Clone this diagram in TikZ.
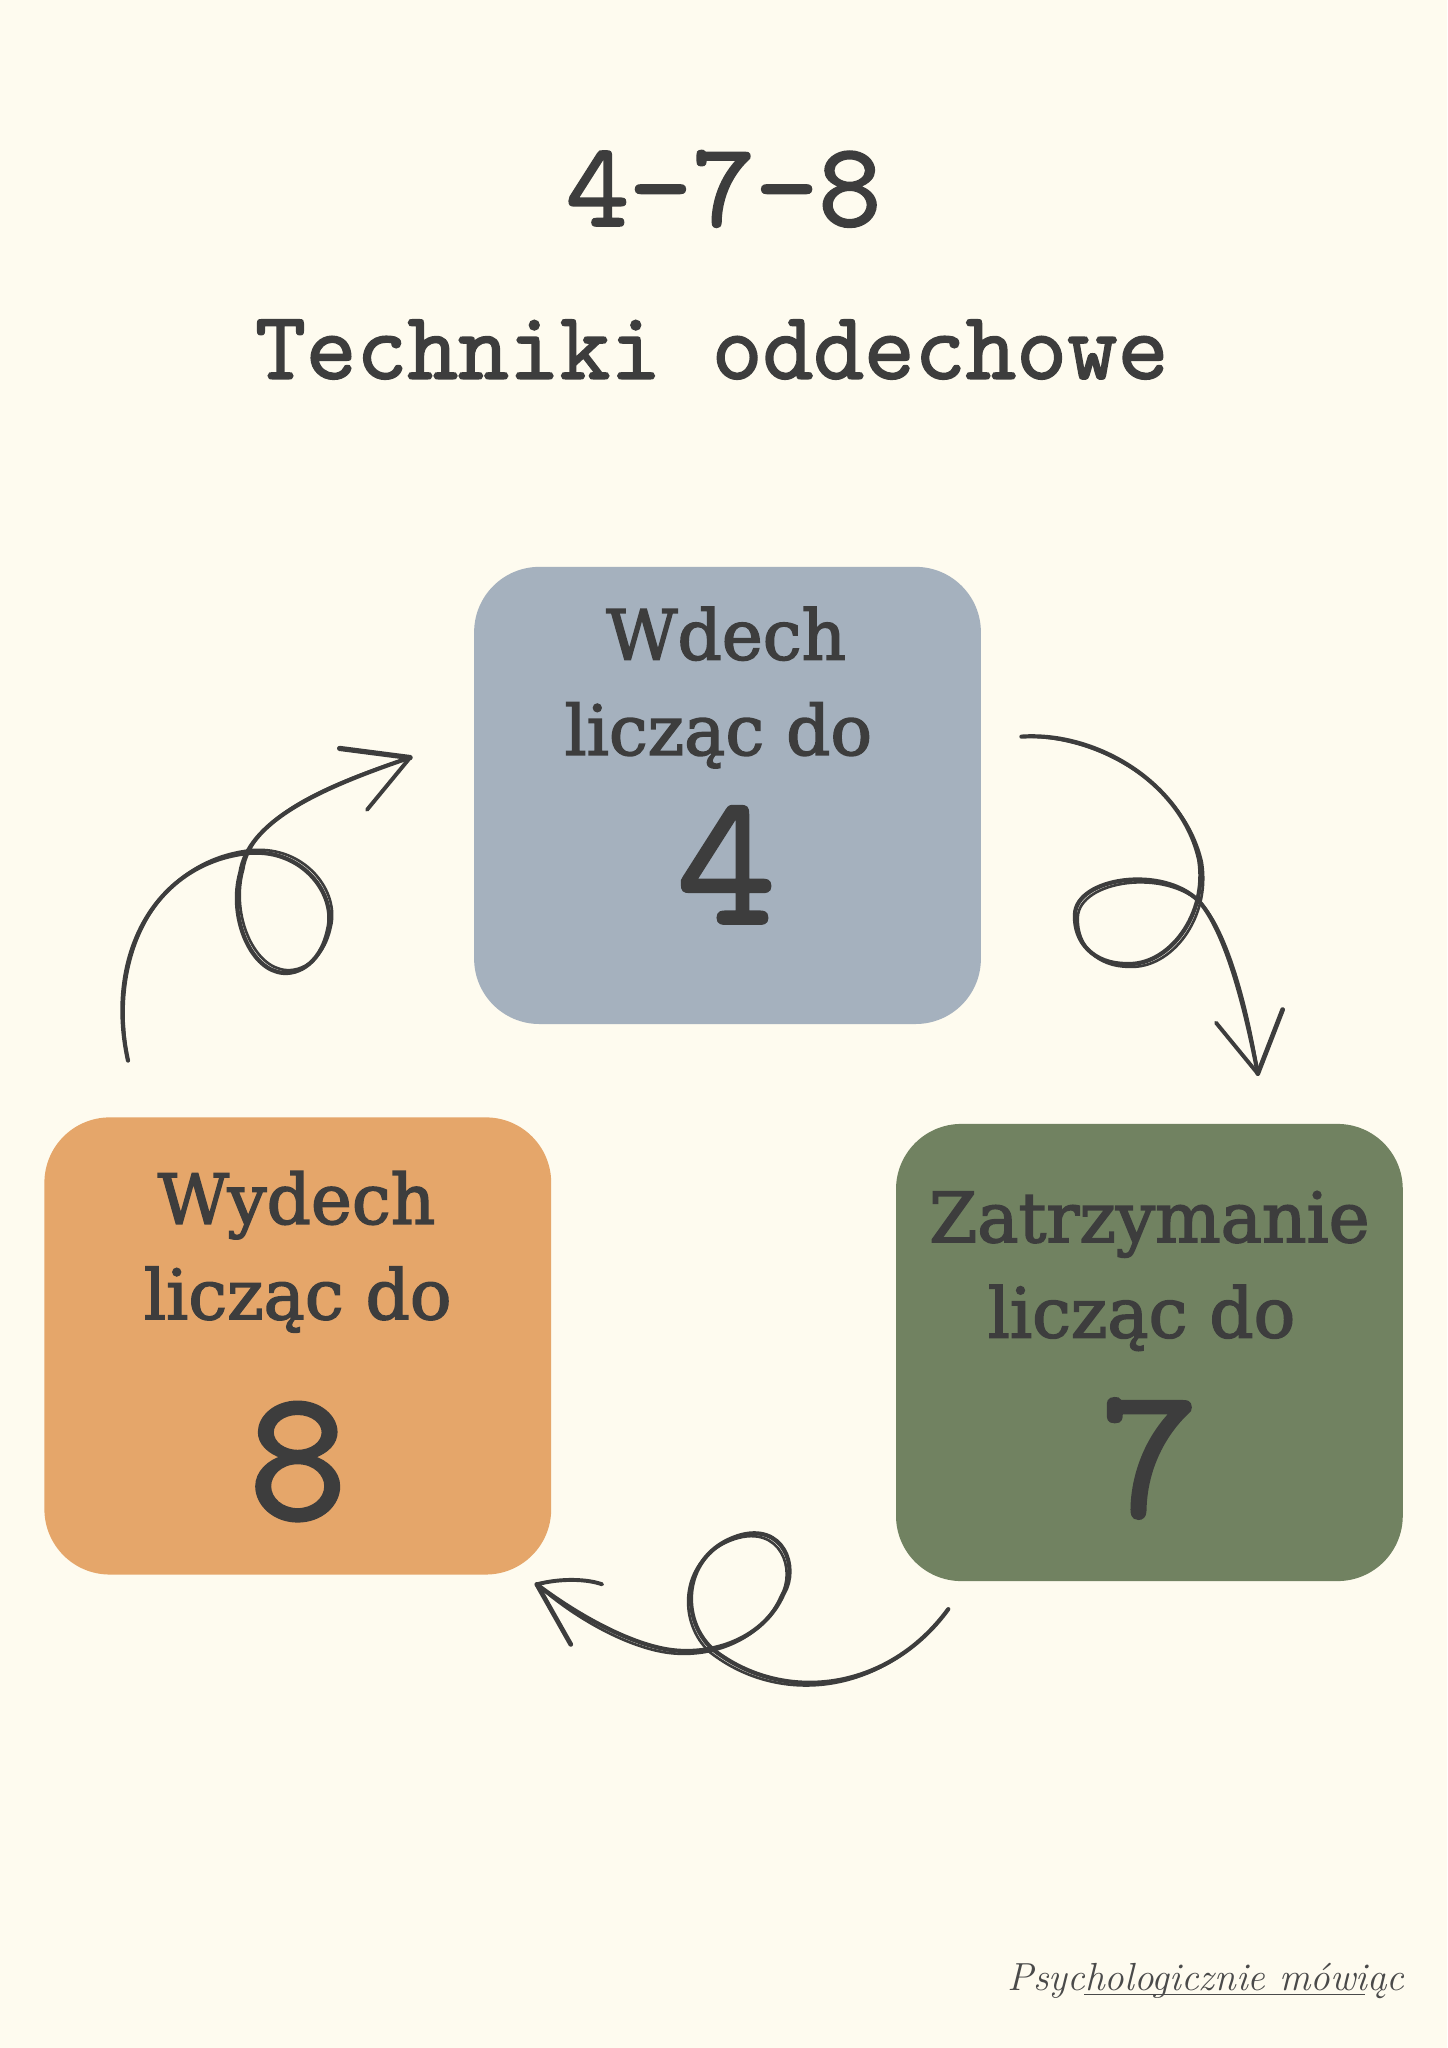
\documentclass[tikz,border=0pt]{standalone}
\usepackage{fontspec}
\newfontfamily\boxfont{DejaVu Serif}[FakeBold=2.2]
\newfontfamily\typew{lmmono10-regular}[Extension=.otf,FakeBold=1.6]
\definecolor{paper}{HTML}{FEFBEF}
\definecolor{ink}{HTML}{3D3D3D}
\definecolor{cblue}{HTML}{A5B1BE}
\definecolor{corange}{HTML}{E5A66A}
\definecolor{cgreen}{HTML}{718261}
\definecolor{sig}{HTML}{4A4A4A}
\tikzset{
  box/.style={rounded corners=50pt, inner sep=0pt, minimum width=388pt, minimum height=350pt},
  lbl/.style={anchor=base, inner sep=0pt, text=ink, font=\boxfont\fontsize{53}{53}\selectfont},
  num/.style={anchor=base, inner sep=0pt, text=ink, font=\typew\fontsize{144}{144}\selectfont},
  sketch/.style={draw=ink, line cap=round, line join=round},
}
\begin{document}
\begin{tikzpicture}[x=1pt,y=-1pt]
\fill[paper] (0,0) rectangle (1108,1568);
\useasboundingbox (0,0) rectangle (1108,1568);

% titles
\node[anchor=base, inner sep=0pt, text=ink, font=\typew\fontsize{92}{92}\selectfont] (t1) at (554,173) {4-7-8};
\node[anchor=base, inner sep=0pt, text=ink, font=\typew\fontsize{74}{74}\selectfont] (t2) at (545,290) {Techniki oddechowe};

% boxes
\node[box, fill=cblue] (inhale) at (557,609) {};
\node[box, fill=corange] (exhale) at (228,1030.5) {};
\node[box, fill=cgreen] (hold) at (880,1035.5) {};

% box texts
\node[lbl] (i1) at (556,505) {Wdech};
\node[lbl] (i2) at (550,578) {licząc do};
\node[num] (i3) at (556,707) {4};

\node[lbl] (e1) at (227,937) {Wydech};
\node[lbl] (e2) at (228,1010) {licząc do};
\node[num] (e3) at (228,1163) {8};

\node[lbl] (h1) at (880,951) {Zatrzymanie};
\node[lbl] (h2) at (874,1024) {licząc do};
\node[num] (h3) at (880,1161) {7};

% arrow coordinates
\coordinate (a1s) at (98,812);
\coordinate (a1e) at (314,580);
\coordinate (a2s) at (782,564);
\coordinate (a2e) at (963,822);
\coordinate (a3s) at (726,1232);
\coordinate (a3e) at (411,1213);

\foreach \o/\w in {0/3.2,2.2/2.0}{
  % left arrow: exhale -> inhale
  \draw[sketch, line width=\w pt, shift={(\o,-\o)}] (a1s)
    .. controls (80,730) and (120,660) .. (191,653)
    .. controls (232,650) and (258,685) .. (251,712)
    .. controls (245,740) and (225,748) .. (212,744)
    .. controls (190,738) and (175,700) .. (184,668)
    .. controls (190,630) and (240,605) .. (a1e);
  % right arrow: inhale -> hold
  \draw[sketch, line width=\w pt, shift={(\o,\o)}] (a2s)
    .. controls (840,560) and (905,600) .. (918,658)
    .. controls (925,700) and (895,740) .. (862,738)
    .. controls (838,738) and (822,722) .. (823,700)
    .. controls (824,672) and (890,662) .. (918,690)
    .. controls (940,715) and (955,780) .. (a2e);
  % bottom arrow: hold -> exhale
  \draw[sketch, line width=\w pt, shift={(-\o,\o)}] (a3s)
    .. controls (680,1295) and (600,1305) .. (546,1263)
    .. controls (520,1240) and (522,1190) .. (565,1176)
    .. controls (600,1165) and (612,1200) .. (600,1220)
    .. controls (585,1255) and (545,1268) .. (512,1263)
    .. controls (480,1258) and (440,1235) .. (a3e);
}
% arrow heads
\draw[sketch, line width=4pt] (a1e) -- (260,573);
\draw[sketch, line width=3pt] (a1e) -- (281,620);
\draw[sketch, line width=3pt] (a2e) -- (931,783);
\draw[sketch, line width=3.6pt] (a2e) -- (982,773);
\draw[sketch, line width=3pt] (a3e) .. controls (430,1208) and (450,1209) .. (461,1213);
\draw[sketch, line width=3.6pt] (a3e) -- (437,1259);

% signature
\node[anchor=base west, inner sep=0pt, text=sig, font=\itshape\fontsize{30}{30}\selectfont] (sg) at (771,1524) {Psychologicznie mówiąc};
\draw[sig, line width=0.8pt] (830,1527) -- (1045,1527);
\end{tikzpicture}
\end{document}
